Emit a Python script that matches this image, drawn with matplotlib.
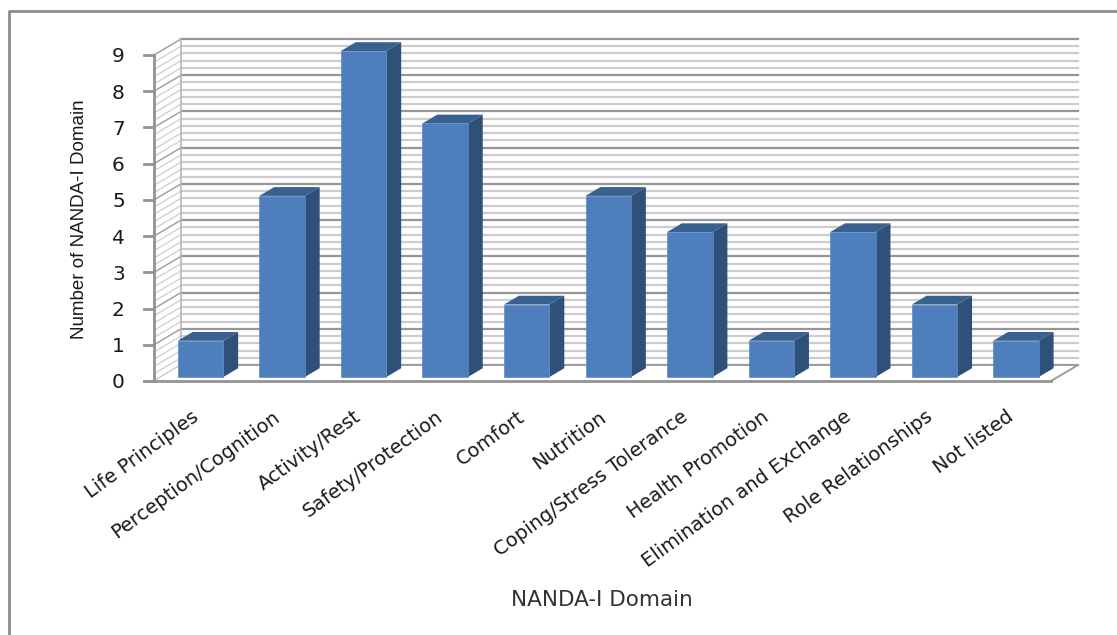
#!/usr/bin/env python3
"""NANDA-I domain counts drawn as an Excel style 3-D column chart."""

import matplotlib
matplotlib.use('Agg')
import matplotlib.pyplot as plt
from matplotlib.patches import Polygon, Rectangle
from matplotlib.transforms import ScaledTranslation

categories = ['Life Principles', 'Perception/Cognition', 'Activity/Rest', 'Safety/Protection',
              'Comfort', 'Nutrition', 'Coping/Stress Tolerance', 'Health Promotion',
              'Elimination and Exchange', 'Role Relationships', 'Not listed']
counts = [1, 5, 9, 7, 2, 5, 4, 1, 4, 2, 1]
y_ticks = list(range(10))

W, H = 1117, 635
LEFT, RIGHT, BOTTOM, TOP = 154, 1051, 381, 55

fig = plt.figure(figsize=(W / 100, H / 100), dpi=100)
ax = fig.add_axes([LEFT / W, 1 - BOTTOM / H, (RIGHT - LEFT) / W, (BOTTOM - TOP) / H])
ax.set_xlim(-0.5, 10.5)
ax.set_ylim(0, 9)
ax.patch.set_alpha(0)
for spine in ax.spines.values():
    spine.set_visible(False)

# oblique depth of the floor, in data units
x_unit = (RIGHT - LEFT) / 11
y_unit = (BOTTOM - TOP) / 9
depth_x = 27 / x_unit
depth_y = 16 / y_unit
x0, x1 = ax.get_xlim()


def oblique(x, y, d):
    # d runs from 0 at the front edge to 1 at the back wall
    return x + d * depth_x, y + d * depth_y


# gridlines on the back and side walls
for n in range(46):
    v = n * 0.2
    major = n % 5 == 0
    color = '#969696' if major else '#cccccc'
    z = 2 if major else 1
    bx0, by = oblique(x0, v, 1)
    bx1, _ = oblique(x1, v, 1)
    ax.plot([bx0, bx1], [by, by], color=color, lw=1.6, zorder=z, clip_on=False)
    ax.plot([x0, bx0], [v, by], color='#9a9a9a' if major else '#d2d2d2', lw=1.0, zorder=z, clip_on=False)

# back wall left edge, floor outline and front axis
bx0, by0 = oblique(x0, 0, 1)
bx1, by1 = oblique(x1, 0, 1)
_, by9 = oblique(x0, 9, 1)
ax.plot([bx0, bx0], [by0, by9], color='#b8b8b8', lw=1.2, zorder=2, clip_on=False)
ax.add_patch(Polygon([(x0, 0), (x1, 0), (bx1, by1), (bx0, by0)], closed=True, fc='white',
                     ec='none', zorder=3, clip_on=False))
ax.plot([bx0, bx1, x1], [by0, by1, 0], color='#9c9c9c', lw=1.4, zorder=4, clip_on=False)
ax.plot([x0 - 10 / x_unit, x1], [0, 0], color='#939393', lw=2, zorder=4, clip_on=False)
ax.plot([x0, x0], [0, 9], color='#939393', lw=2, zorder=4, clip_on=False)
for v in y_ticks:
    ax.plot([x0 - 10 / x_unit, x0], [v, v], color='#939393', lw=2, zorder=4, clip_on=False)

# columns: front face, side and top
bar_w = 45.5 / x_unit
nudge = 1.0 / x_unit
front_d = 0.25
back_d = 0.8
dx = (back_d - front_d) * depth_x
dy = (back_d - front_d) * depth_y
for i, c in enumerate(counts):
    xl, y_low = oblique(i - bar_w / 2 - nudge, 0, front_d)
    xr = xl + bar_w
    y_top = y_low + c
    ax.add_patch(Polygon([(xr, y_low), (xr + dx, y_low + dy), (xr + dx, y_top + dy), (xr, y_top)],
                         closed=True, fc='#2f5078', ec='none', zorder=5, clip_on=False))
    ax.add_patch(Polygon([(xl, y_top), (xr, y_top), (xr + dx, y_top + dy), (xl + dx, y_top + dy)],
                         closed=True, fc='#39618f', ec='none', zorder=5, clip_on=False))
    ax.add_patch(Rectangle((xl, y_low), bar_w, y_top - y_low, fc='#4e7fbc', ec='#5b8ac4', lw=0.5,
                           zorder=6, clip_on=False))

ax.set_xticks(range(len(categories)))
ax.set_xticklabels(categories, rotation=36, ha='right', va='top', rotation_mode='anchor',
                   fontsize=14, color='#1a1a1a')
ax.tick_params(axis='x', length=0, pad=19)
shift_left = ScaledTranslation(-4 / 100, 0, fig.dpi_scale_trans)
for label in ax.get_xticklabels():
    label.set_transform(label.get_transform() + shift_left)
ax.set_yticks(y_ticks)
ax.set_yticklabels([str(v) for v in y_ticks], fontsize=14.5, color='#1a1a1a')
ax.tick_params(axis='y', length=0, pad=21)

fig.text(602 / W, 1 - 600 / H, 'NANDA-I Domain', fontsize=15.5, ha='center', va='center', color='#333333')
fig.text(80 / W, 1 - 219 / H, 'Number of NANDA-I Domain', fontsize=13.5, rotation=90, ha='center', va='center',
         family='Liberation Sans', color='#1a1a1a')

# chart area border: left and top edges only reach the picture
fig.add_artist(plt.Line2D([9 / W, 9 / W, 1], [0, 1 - 11 / H, 1 - 11 / H], transform=fig.transFigure,
                          color='#8c8c8c', lw=2))

fig.savefig('out.png', dpi=100)
